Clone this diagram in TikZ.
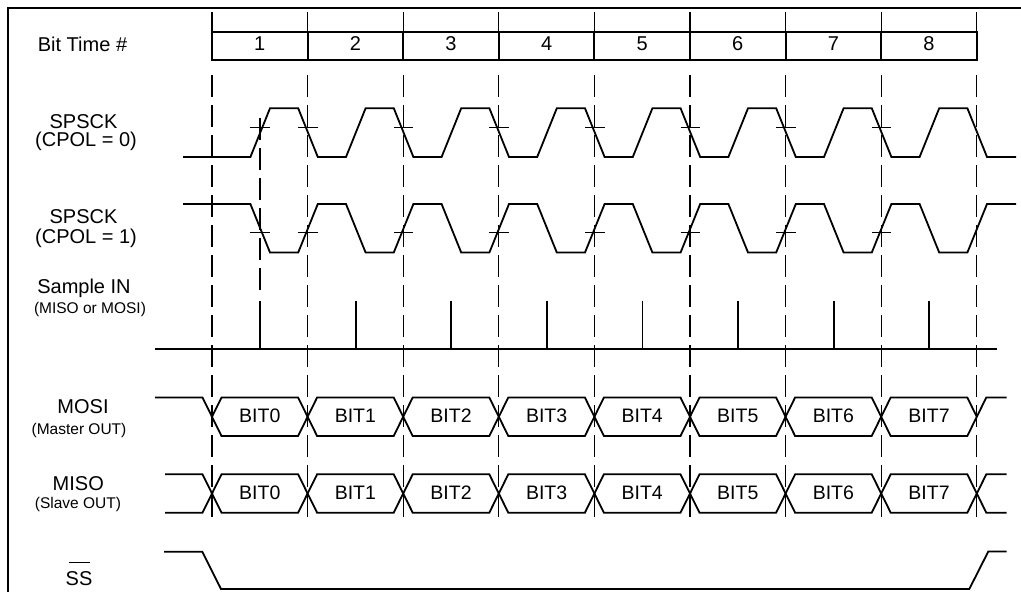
\documentclass[tikz,border=0pt]{standalone}
\usepackage{fontspec}
\setmainfont{Liberation Sans}
\begin{document}
\begin{tikzpicture}[x=1pt,y=-1pt,
  wave/.style={line width=1.8pt,line join=miter},
  tickmark/.style={line width=0.9pt},
  gridline/.style={line width=1.2pt,dash pattern=on 22pt off 8pt},
  framestyle/.style={line width=2.4pt},
  boxstyle/.style={line width=2pt},
  big/.style={font=\fontsize{20}{24}\selectfont,anchor=base,inner sep=0pt},
  small/.style={font=\fontsize{15.5}{18}\selectfont,anchor=base,inner sep=0pt},
  bitlab/.style={font=\fontsize{19.5}{23}\selectfont,anchor=base,inner sep=0pt}]
\useasboundingbox (0,0) rectangle (1021,592);
\def\P{95.6}
% frame
\draw[framestyle] (8,600) -- (8,8) -- (1030,8);
% dashed bit boundaries
\foreach \k in {0,...,8}{
  \pgfmathsetmacro\xx{212+\P*\k}
  \draw[line width=1.2pt] (\xx,12) -- (\xx,32);
  \draw[gridline] (\xx,75) -- (\xx,520);
}
\draw[gridline] (260,118) -- (260,292);
% bit time box
\draw[boxstyle] (212,32) rectangle (976.8,60);
\foreach \k in {1,...,7}{
  \pgfmathsetmacro\xx{212+\P*\k}
  \draw[boxstyle] (\xx,32) -- (\xx,60);
}
\foreach \k in {1,...,8}{
  \pgfmathsetmacro\xx{212+\P*(\k-0.5)}
  \node[big] (n\k) at (\xx,50.5) {\k};
}
% labels
\node[big] (lbt) at (82.5,51.5) {Bit Time \#};
\node[big] (lc0a) at (83.5,128) {SPSCK};
\node[big] (lc0b) at (86,146.5) {(CPOL = 0)};
\node[big] (lc1a) at (83.5,223.3) {SPSCK};
\node[big] (lc1b) at (86,243.3) {(CPOL = 1)};
\node[big] (lsa) at (84,293.3) {Sample IN};
\node[small] (lsb) at (90,313.3) {(MISO or MOSI)};
\node[big] (lmoa) at (83,413.3) {MOSI};
\node[small] (lmob) at (79,434) {(Master OUT)};
\node[big] (lmia) at (78.3,490) {MISO};
\node[small] (lmib) at (78,508.3) {(Slave OUT)};
\node[big] (lss) at (79,585) {SS};
\draw[line width=0.9pt] (68.5,562) -- (89.5,562);
% SPSCK CPOL=0
\draw[wave] (183,157) \foreach \k in {0,...,7}{
  -- ({250.4+\P*\k},157) -- ({270+\P*\k},108.3) -- ({298.2+\P*\k},108.3) -- ({317.8+\P*\k},157)
} -- (1016,157);
\draw[tickmark] (250.4,127.5) -- (270,127.5);
\foreach \k in {0,...,6}{
  \draw[tickmark] ({298.2+\P*\k},127.5) -- ({317.8+\P*\k},127.5);
}
% SPSCK CPOL=1
\draw[wave] (183,204) \foreach \k in {0,...,7}{
  -- ({250.4+\P*\k},204) -- ({270+\P*\k},252.5) -- ({298.2+\P*\k},252.5) -- ({317.8+\P*\k},204)
} -- (1016,204);
\draw[tickmark] (250.4,232.7) -- (270,232.7);
\foreach \k in {0,...,6}{
  \draw[tickmark] ({298.2+\P*\k},232.7) -- ({317.8+\P*\k},232.7);
}
% Sample IN
\draw[wave] (155,349) -- (997,349);
\foreach \k in {0,...,7}{
  \draw[wave] ({260+\P*\k},300.5) -- ({260+\P*\k},349);
}
% MOSI
\draw[wave] (155,397.5) -- (202.5,397.5) -- (212,416.75);
\draw[wave] (976.8,416.75) -- (986.3,397.5) -- (1006.7,397.5);
% MISO
\draw[wave] (165,474.3) -- (202.5,474.3) -- (212,493.5) -- (202.5,512.7) -- (165,512.7);
\draw[wave] (1006.7,474.3) -- (986.3,474.3) -- (976.8,493.5) -- (986.3,512.7) -- (1006.7,512.7);
\foreach \k in {0,...,7}{
  \pgfmathsetmacro\xa{212+\P*\k}
  \pgfmathsetmacro\xb{212+\P*(\k+1)}
  \pgfmathsetmacro\xc{212+\P*(\k+0.5)}
  \draw[wave] (\xa,416.75) -- (\xa+9.5,397.5) -- (\xb-9.5,397.5) -- (\xb,416.75) -- (\xb-9.5,436) -- (\xa+9.5,436) -- cycle;
  \draw[wave] (\xa,493.5) -- (\xa+9.5,474.3) -- (\xb-9.5,474.3) -- (\xb,493.5) -- (\xb-9.5,512.7) -- (\xa+9.5,512.7) -- cycle;
  \node[bitlab] (mo\k) at (\xc,422.7) {BIT\k};
  \node[bitlab] (mi\k) at (\xc,499.5) {BIT\k};
}
% SS
\draw[wave] (164,551.7) -- (202.3,551.7) -- (221,589) -- (969.3,589) -- (988.3,551.5) -- (1006.7,551.5);
\end{tikzpicture}
\end{document}
